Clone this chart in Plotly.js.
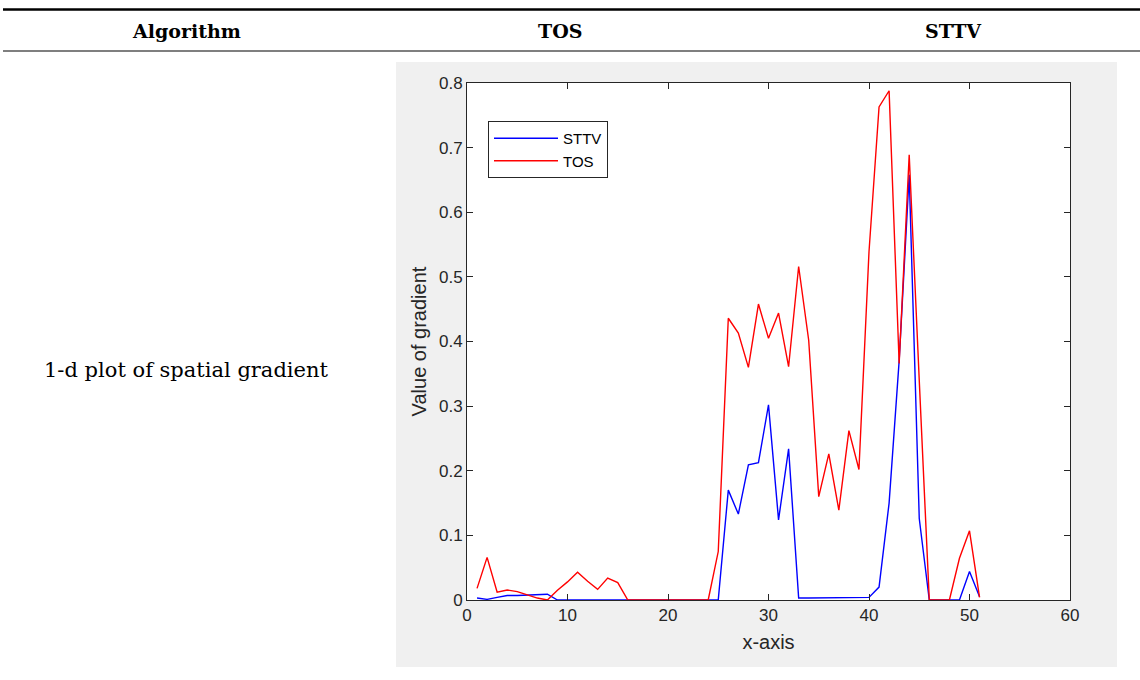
<!DOCTYPE html>
<html>
<head>
<meta charset="utf-8">
<script src="https://cdn.plot.ly/plotly-3.0.1.min.js"></script>
<style>
  html, body { margin: 0; padding: 0; background: #ffffff; }
  #chart { width: 1140px; height: 680px; }
</style>
</head>
<body>
<div id="chart"></div>
<script>
// Sample index along the 1-d profile
const sampleIndex = [1, 2, 3, 4, 5, 6, 7, 8, 9, 10, 11, 12, 13, 14, 15, 16, 17, 18, 19, 20,
  21, 22, 23, 24, 25, 26, 27, 28, 29, 30, 31, 32, 33, 34, 35, 36, 37, 38, 39, 40,
  41, 42, 43, 44, 45, 46, 47, 48, 49, 50, 51];

// Spatial gradient magnitude, STTV
const sttvGradient = [0.003, 0.001, 0.004, 0.007, 0.007, 0.008, 0.008, 0.009, 0, 0,
  0, 0, 0, 0, 0, 0, 0, 0, 0, 0,
  0, 0, 0, 0, 0, 0.170, 0.133, 0.209, 0.2125, 0.302,
  0.124, 0.234, 0.003, 0.003, 0.003, 0.0035, 0.0035, 0.004, 0.004, 0.004,
  0.020, 0.150, 0.370, 0.658, 0.126, 0, 0, 0, 0, 0.044, 0.005];

// Spatial gradient magnitude, TOS
const tosGradient = [0.018, 0.066, 0.012, 0.0155, 0.013, 0.008, 0.003, 0, 0.015, 0.028,
  0.043, 0.029, 0.0165, 0.034, 0.027, 0, 0, 0, 0, 0,
  0, 0, 0, 0, 0.075, 0.436, 0.413, 0.360, 0.458, 0.405,
  0.444, 0.361, 0.516, 0.402, 0.160, 0.226, 0.139, 0.262, 0.202, 0.539,
  0.763, 0.788, 0.366, 0.689, 0.340, 0, 0, 0, 0.0645, 0.107, 0.004];

// Table text
const headerLabels = ['Algorithm', 'TOS', 'STTV'];
const rowLabel = '1-d plot of spatial gradient';
const seriesNames = ['STTV', 'TOS'];
const xTickValues = [0, 10, 20, 30, 40, 50, 60];
const yTickValues = [0, 0.1, 0.2, 0.3, 0.4, 0.5, 0.6, 0.7, 0.8];
const yTickLabels = ['0', '0.1', '0.2', '0.3', '0.4', '0.5', '0.6', '0.7', '0.8'];

// Page geometry (pixels)
const W = 1140, H = 680;
const plotL = 467, plotR = 1070, plotT = 83, plotB = 600;
const px2x = p => (p - plotL) / (plotR - plotL);
const px2y = p => (plotB - p) / (plotB - plotT);

const axisColor = '#262626';
const sans = 'Liberation Sans, Arial, sans-serif';
const tickFont = { family: sans, size: 17, color: axisColor };
const titleFont = { family: sans, size: 20, color: axisColor };
const serifBold = { family: 'DejaVu Serif, serif', size: 19, color: '#000000' };
const serif = { family: 'DejaVu Serif, serif', size: 21, color: '#000000' };

const traces = [
  {
    x: sampleIndex, y: sttvGradient, name: seriesNames[0],
    type: 'scatter', mode: 'lines',
    line: { color: '#0000ff', width: 1.4 }
  },
  {
    x: sampleIndex, y: tosGradient, name: seriesNames[1],
    type: 'scatter', mode: 'lines',
    line: { color: '#ff0000', width: 1.4 }
  }
];

const headerX = [186, 560, 953];
const annotations = headerLabels.map((t, i) => ({
  text: '<b>' + t + '</b>', xref: 'paper', yref: 'paper',
  x: px2x(headerX[i]), y: px2y(31), xanchor: 'center', yanchor: 'middle',
  showarrow: false, font: serifBold
}));
annotations.push({
  text: rowLabel, xref: 'paper', yref: 'paper',
  x: px2x(186), y: px2y(370), xanchor: 'center', yanchor: 'middle',
  showarrow: false, font: serif
});

const shapes = [
  // grey figure panel behind the axes
  { type: 'rect', xref: 'paper', yref: 'paper', layer: 'below',
    x0: px2x(396), x1: px2x(1117), y0: px2y(667), y1: px2y(62),
    fillcolor: '#f0f0f0', line: { width: 0 } },
  // white axes area
  { type: 'rect', xref: 'paper', yref: 'paper', layer: 'below',
    x0: 0, x1: 1, y0: 0, y1: 1,
    fillcolor: '#ffffff', line: { width: 0 } },
  // table rules
  { type: 'line', xref: 'paper', yref: 'paper',
    x0: px2x(3), x1: px2x(1140), y0: px2y(9.5), y1: px2y(9.5),
    line: { color: '#000000', width: 2.5 } },
  { type: 'line', xref: 'paper', yref: 'paper',
    x0: px2x(3), x1: px2x(1140), y0: px2y(51), y1: px2y(51),
    line: { color: '#000000', width: 1.2 } }
];

const layout = {
  width: W, height: H,
  margin: { l: plotL, r: W - plotR, t: plotT, b: H - plotB, pad: 0 },
  paper_bgcolor: '#ffffff',
  plot_bgcolor: 'rgba(0,0,0,0)',
  showlegend: true,
  legend: {
    x: px2x(488), y: px2y(121), xanchor: 'left', yanchor: 'top',
    bgcolor: '#ffffff', bordercolor: axisColor, borderwidth: 1,
    font: { family: sans, size: 15, color: '#000000' },
    itemwidth: 64, tracegroupgap: 0
  },
  xaxis: {
    range: [0, 60], tickvals: xTickValues, ticktext: xTickValues.map(String),
    ticks: 'inside', ticklen: 6, tickcolor: axisColor, tickwidth: 1,
    showline: true, linecolor: axisColor, linewidth: 1, mirror: 'allticks',
    showgrid: false, zeroline: false, tickfont: tickFont,
    title: { text: 'x-axis', font: titleFont, standoff: 10 }
  },
  yaxis: {
    range: [0, 0.8], tickvals: yTickValues, ticktext: yTickLabels,
    ticks: 'inside', ticklen: 6, tickcolor: axisColor, tickwidth: 1,
    showline: true, linecolor: axisColor, linewidth: 1, mirror: 'allticks',
    showgrid: false, zeroline: false, tickfont: tickFont,
    title: { text: 'Value of gradient', font: titleFont, standoff: 6 }
  },
  shapes: shapes,
  annotations: annotations
};

Plotly.newPlot('chart', traces, layout, { displayModeBar: false, staticPlot: true });
</script>
</body>
</html>
